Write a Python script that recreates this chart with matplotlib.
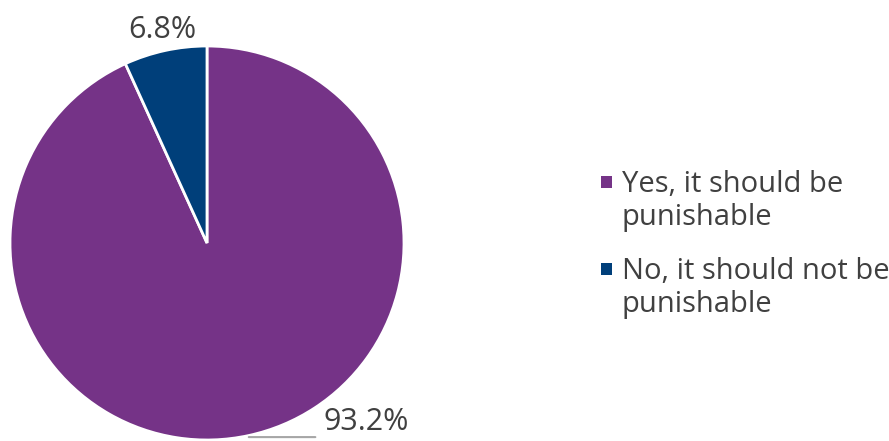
import matplotlib
matplotlib.use("Agg")
import matplotlib.pyplot as plt
import matplotlib.patches as mpatches
import numpy as np

labels = ["Yes, it should be\npunishable", "No, it should not be\npunishable"]
values = [93.2, 6.8]
colors = ["#753387", "#003f7a"]
TEXT = "#404040"

plt.rcParams["font.family"] = ["Open Sans", "DejaVu Sans"]

W, H = 889, 441
fig = plt.figure(figsize=(W / 100, H / 100), dpi=100)
# pie axes placed in pixel terms: centre (207, 243), radius ~197
ax = fig.add_axes([10 / W, 1 / H, 394 / W, 394 / H])
ax.set_aspect("equal")

wedges, _ = ax.pie(values, colors=colors, startangle=90, counterclock=False,
                   radius=1, wedgeprops=dict(edgecolor="white", linewidth=2))
ax.set_xlim(-1, 1)
ax.set_ylim(-1, 1)

# data labels
for w, v in zip(wedges, values):
    ang = np.deg2rad((w.theta1 + w.theta2) / 2)
    x, y = np.cos(ang), np.sin(ang)
    if v > 50:
        # horizontal leader line out to the right, label after it
        ax.annotate("", xy=(x, y - 0.008), xytext=(0.55, y - 0.008),
                    annotation_clip=False,
                    arrowprops=dict(arrowstyle="-", color="#a6a6a6", lw=1.5,
                                    shrinkA=0, shrinkB=0))
        ax.text(0.59, y - 0.005, f"{v}%", ha="left", va="bottom",
                fontsize=22, color=TEXT, clip_on=False)
    else:
        ax.text(x * 1.06, y * 1.065, f"{v}%", ha="center", va="baseline",
                fontsize=22, color=TEXT, clip_on=False)

# legend drawn by hand: square marker beside the first line of each label
legend_y = [192, 279]
for lab, col, yb in zip(labels, colors, legend_y):
    fig.patches.append(mpatches.Rectangle((601 / W, 1 - (yb - 4) / H), 11 / W, 12 / H,
                                          transform=fig.transFigure,
                                          facecolor=col, edgecolor="none"))
    for i, line in enumerate(lab.split("\n")):
        fig.text(622 / W, 1 - (yb + 33 * i) / H, line, ha="left", va="baseline",
                 fontsize=21, color=TEXT)

fig.savefig("out.png", dpi=100)
